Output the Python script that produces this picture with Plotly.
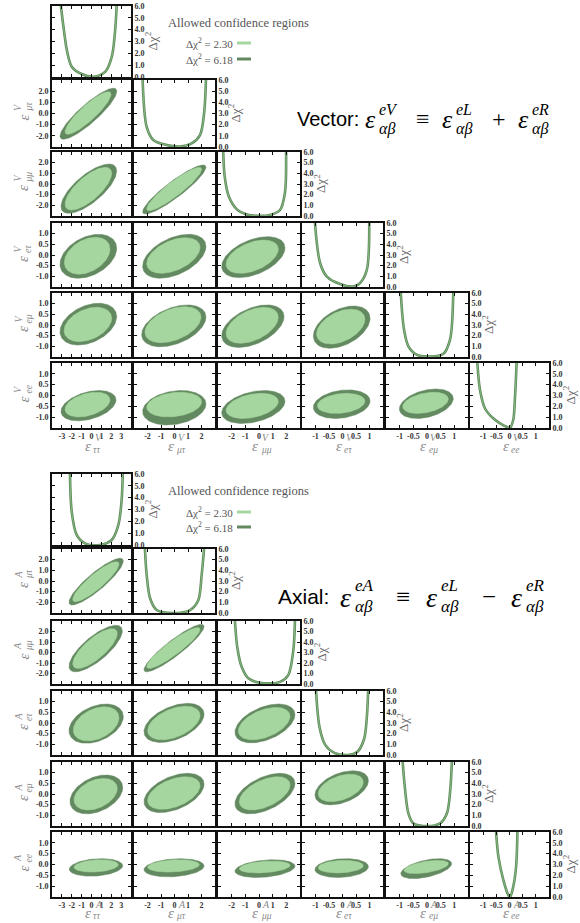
import numpy as np
import plotly.graph_objects as go

W, H = 580, 923

# ---------------- data ----------------
PARAM_SUBS = ["ττ", "μτ", "μμ", "eτ", "eμ", "ee"]
HALF_RANGE = [4, 3, 3, 1.5, 1.5, 1.5]
X_TICKS = [[-3, -2, -1, 0, 1, 2, 3], [-2, -1, 0, 1, 2], [-2, -1, 0, 1, 2],
           [-1, -0.5, 0, 0.5, 1], [-1, -0.5, 0, 0.5, 1], [-1, -0.5, 0, 0.5, 1]]
X_TICK_TEXT = [["-3", "-2", "-1", "0", "1", "2", "3"], ["-2", "-1", "0", "1", "2"],
               ["-2", "-1", "0", "1", "2"], ["-1", "-0.5", "0", "0.5", "1"],
               ["-1", "-0.5", "0", "0.5", "1"], ["-1", "-0.5", "0", "0.5", "1"]]
Y_TICKS = [[-2, -1, 0, 1, 2], [-2, -1, 0, 1, 2], [-2, -1, 0, 1, 2],
           [-1, -0.5, 0, 0.5, 1], [-1, -0.5, 0, 0.5, 1], [-1, -0.5, 0, 0.5, 1]]
Y_TICK_TEXT = [["-2.0", "-1.0", "0.0", "1.0", "2.0"]] * 3 + [["-1.0", "-0.5", "0.0", "0.5", "1.0"]] * 3
CHI_TICKS = [0, 1, 2, 3, 4, 5, 6]
CHI_TICK_TEXT = ["0.0", "1.0", "2.0", "3.0", "4.0", "5.0", "6.0"]

PAIRS = [(1, 0), (2, 0), (2, 1), (3, 0), (3, 1), (3, 2), (4, 0), (4, 1), (4, 2), (4, 3),
         (5, 0), (5, 1), (5, 2), (5, 3), (5, 4)]

# Vector: outer (Δχ²=6.18) and inner (Δχ²=2.30) region extents, and tilt
V_OUT_XLO = [-3.19, -3.09, -2.36, -3.19, -2.36, -2.73, -3.19, -2.43, -2.73, -1.08, -3.09, -2.36, -2.73, -1.08, -1.01]
V_OUT_XHI = [2.56, 2.55, 2.33, 2.55, 2.33, 1.90, 2.55, 2.33, 1.83, 1.02, 2.48, 2.33, 1.90, 1.02, 0.96]
V_OUT_YLO = [-2.31, -2.75, -2.81, -1.09, -1.09, -1.06, -0.94, -1.02, -1.05, -1.09, -1.17, -1.36, -1.29, -1.06, -1.06]
V_OUT_YHI = [2.26, 1.87, 1.78, 0.97, 0.97, 0.86, 1.02, 0.94, 0.94, 0.89, 0.23, 0.23, 0.23, 0.26, 0.30]
V_IN_XLO = [-2.68, -2.68, -2.06, -2.75, -2.06, -2.41, -2.78, -2.19, -2.41, -0.96, -2.68, -2.06, -2.41, -0.93, -0.89]
V_IN_XHI = [1.97, 2.04, 2.01, 1.87, 1.89, 1.41, 2.04, 1.96, 1.41, 0.83, 1.87, 2.01, 1.41, 0.83, 0.78]
V_IN_YLO = [-1.86, -2.44, -2.50, -0.90, -0.86, -0.86, -0.78, -0.83, -0.86, -0.89, -0.99, -0.99, -1.06, -0.83, -0.83]
V_IN_YHI = [1.95, 1.56, 1.56, 0.83, 0.81, 0.70, 0.83, 0.86, 0.83, 0.74, 0.15, 0.15, 0.10, 0.10, 0.15]
V_RHO = [0.88, 0.72, 0.91, 0.36, 0.45, 0.45, 0.36, 0.42, 0.45, 0.42, 0.38, 0.22, 0.35, 0.22, 0.35]

# Axial
A_OUT_XLO = [-2.28, -2.28, -2.26, -2.28, -2.26, -1.76, -2.18, -2.26, -1.76, -1.02, -2.25, -2.26, -1.76, -1.02, -0.96]
A_OUT_XHI = [3.22, 3.12, 2.19, 3.22, 2.19, 2.63, 3.16, 2.19, 2.63, 0.96, 3.16, 2.19, 2.63, 0.96, 0.90]
A_OUT_YLO = [-2.25, -1.84, -1.84, -0.95, -0.91, -0.93, -0.93, -0.87, -0.93, -0.51, -0.54, -0.57, -0.60, -0.60, -0.65]
A_OUT_YHI = [2.13, 2.59, 2.68, 0.89, 0.92, 0.89, 0.89, 0.97, 0.97, 1.09, 0.27, 0.27, 0.22, 0.27, 0.27]
A_IN_XLO = [-1.90, -1.90, -2.06, -1.84, -1.99, -1.51, -1.77, -1.99, -1.44, -0.90, -1.77, -1.99, -1.44, -0.90, -0.84]
A_IN_XHI = [2.78, 2.61, 1.89, 2.78, 1.89, 2.27, 2.61, 1.89, 2.27, 0.77, 2.71, 1.84, 2.27, 0.77, 0.78]
A_IN_YLO = [-1.94, -1.52, -1.52, -0.84, -0.79, -0.79, -0.75, -0.72, -0.75, -0.36, -0.35, -0.35, -0.39, -0.39, -0.42]
A_IN_YHI = [1.81, 2.27, 2.37, 0.76, 0.79, 0.73, 0.73, 0.81, 0.81, 0.93, 0.22, 0.22, 0.16, 0.19, 0.19]
A_RHO = [0.88, 0.76, 0.91, 0.36, 0.45, 0.45, 0.36, 0.45, 0.5, 0.42, 0.2, 0.2, 0.28, 0.15, 0.5]

# 1D profiles Δχ²(ε) on the diagonal
V_DIAG_X = [[-3.10, -2.80, -2.50, -2.00, -1.00, 0.20, 1.40, 2.05, 2.37, 2.55],
            [-2.36, -2.06, -1.57, -0.58, 0.40, 1.27, 1.89, 2.19, 2.33],
            [-2.62, -2.50, -2.20, -1.60, -0.90, -0.20, 0.80, 1.54, 1.90, 1.98],
            [-1.02, -0.83, -0.58, -0.09, 0.40, 0.65, 0.90, 0.99],
            [-0.96, -0.84, -0.68, -0.38, 0.11, 0.60, 0.84, 0.96],
            [-1.22, -1.12, -0.93, -0.61, -0.23, 0.02, 0.14, 0.21, 0.27]]
V_DIAG_Y = [[6.0, 4.0, 2.3, 0.87, 0.25, 0.02, 0.45, 1.7, 3.7, 6.0],
            [6.0, 1.8, 0.63, 0.18, 0.05, 0.33, 1.07, 3.0, 6.0],
            [6.0, 3.6, 1.8, 0.6, 0.15, 0.02, 0.1, 0.56, 2.2, 6.0],
            [6.0, 2.25, 0.97, 0.28, 0.05, 0.37, 1.6, 6.0],
            [6.0, 2.56, 1.0, 0.22, 0.05, 0.3, 1.6, 6.0],
            [6.0, 3.5, 1.8, 0.87, 0.25, 0.03, 0.72, 2.9, 6.0]]
A_DIAG_X = [[-2.18, -2.00, -1.50, -0.66, 0.86, 2.04, 2.72, 3.06, 3.16],
            [-2.19, -2.06, -1.81, -1.32, -0.09, 1.15, 1.76, 2.01, 2.19],
            [-1.76, -1.59, -1.27, -0.78, 0.07, 1.54, 2.14, 2.51, 2.63],
            [-0.98, -0.85, -0.65, -0.30, 0.20, 0.55, 0.80, 0.90, 0.95],
            [-0.89, -0.80, -0.68, -0.50, -0.13, 0.48, 0.73, 0.85, 0.91],
            [-0.51, -0.42, -0.23, -0.04, 0.02, 0.14, 0.25, 0.30]]
A_DIAG_Y = [[6.0, 2.8, 0.85, 0.14, 0.0, 0.42, 1.7, 3.9, 6.0],
            [6.0, 3.56, 1.38, 0.28, 0.0, 0.28, 1.2, 3.56, 6.0],
            [6.0, 3.5, 1.64, 0.54, 0.12, 0.2, 0.85, 3.2, 6.0],
            [6.0, 2.6, 1.0, 0.2, 0.0, 0.3, 1.5, 3.5, 6.0],
            [6.0, 3.36, 1.19, 0.25, 0.0, 0.25, 1.19, 3.36, 6.0],
            [6.0, 3.7, 1.54, 0.15, 0.0, 0.92, 2.77, 6.0]]

LEGEND_LEVELS = ["2.30", "6.18"]

# ---------------- styling / layout ----------------
C_IN = "#a6d69f"
C_OUT = "#62895f"
C_LINE = "#5c8a59"
C_LINE_HI = "#93c48d"
SERIF = "Liberation Serif"
SANS = "Liberation Sans"

COL_L = [52, 134, 218, 302, 386, 470]
COL_R = [131, 215, 300, 383, 468, 549]
BLOCKS = [
    dict(sym="V", rows_t=[6, 80, 152, 223, 293, 363], rows_b=[77, 147, 216, 287, 357, 428],
         out=(V_OUT_XLO, V_OUT_XHI, V_OUT_YLO, V_OUT_YHI), inn=(V_IN_XLO, V_IN_XHI, V_IN_YLO, V_IN_YHI),
         rho=V_RHO, dx=V_DIAG_X, dy=V_DIAG_Y, leg_y=[23, 43, 59], xlab_off=18),
    dict(sym="A", rows_t=[474, 549, 621, 691, 762, 832], rows_b=[545, 613, 684, 755, 826, 897],
         out=(A_OUT_XLO, A_OUT_XHI, A_OUT_YLO, A_OUT_YHI), inn=(A_IN_XLO, A_IN_XHI, A_IN_YLO, A_IN_YHI),
         rho=A_RHO, dx=A_DIAG_X, dy=A_DIAG_Y, leg_y=[491, 512, 527], xlab_off=15.5),
]


def pxx(x):
    return x / W


def pyy(y):
    return 1 - y / H


def ellipse(xlo, xhi, ylo, yhi, rho, n=160):
    t = np.linspace(0, 2 * np.pi, n)
    cx, a = (xlo + xhi) / 2, (xhi - xlo) / 2
    cy, b = (ylo + yhi) / 2, (yhi - ylo) / 2
    return cx + a * np.cos(t), cy + b * (rho * np.cos(t) + np.sqrt(1 - rho ** 2) * np.sin(t))


fig = go.Figure()
layout = {}
annotations = []
shapes = []
tickfont = dict(family=SERIF, size=8, color="#333333", weight="bold")
axis_common = dict(showgrid=False, zeroline=False, showline=True, linecolor="#111111", linewidth=1.6,
                   mirror="allticks", ticks="inside", ticklen=3, tickwidth=1, tickcolor="#111111",
                   tickfont=tickfont, automargin=False)

n = 0
for blk in BLOCKS:
    rt, rb = blk["rows_t"], blk["rows_b"]
    for i in range(6):
        for j in range(i + 1):
            n += 1
            xa = "xaxis" if n == 1 else f"xaxis{n}"
            ya = "yaxis" if n == 1 else f"yaxis{n}"
            xr = "x" if n == 1 else f"x{n}"
            yr = "y" if n == 1 else f"y{n}"
            hx = HALF_RANGE[j]
            layout[xa] = dict(axis_common, domain=[pxx(COL_L[j]), pxx(COL_R[j])], range=[-hx, hx],
                              anchor=yr, tickvals=X_TICKS[j], ticktext=X_TICK_TEXT[j],
                              showticklabels=(i == 5))
            if i == j:
                layout[ya] = dict(axis_common, domain=[pyy(rb[i]), pyy(rt[i])], range=[0, 6],
                                  anchor=xr, side="right", tickvals=CHI_TICKS, ticktext=CHI_TICK_TEXT,
                                  showticklabels=True)
                dxv, dyv = blk["dx"][i], blk["dy"][i]
                fig.add_trace(go.Scatter(x=dxv, y=dyv, xaxis=xr, yaxis=yr, mode="lines",
                                         line=dict(color=C_LINE, width=2.6, shape="spline", smoothing=0.9),
                                         showlegend=False, hoverinfo="skip"))
                fig.add_trace(go.Scatter(x=dxv, y=dyv, xaxis=xr, yaxis=yr, mode="lines",
                                         line=dict(color=C_LINE_HI, width=0.8, shape="spline", smoothing=0.9),
                                         showlegend=False, hoverinfo="skip"))
                annotations.append(dict(x=pxx(COL_R[j] + 20), y=pyy((rt[i] + rb[i]) / 2), xref="paper",
                                        yref="paper", text="Δχ<sup>2</sup>", showarrow=False, textangle=-90,
                                        xanchor="center", yanchor="middle",
                                        font=dict(family=SERIF, size=13, color="#666666")))
            else:
                hy = HALF_RANGE[i]
                layout[ya] = dict(axis_common, domain=[pyy(rb[i]), pyy(rt[i])], range=[-hy, hy],
                                  anchor=xr, tickvals=Y_TICKS[i], ticktext=Y_TICK_TEXT[i],
                                  showticklabels=(j == 0))
                k = PAIRS.index((i, j))
                for ext, col in ((blk["out"], C_OUT), (blk["inn"], C_IN)):
                    ex, ey = ellipse(ext[0][k], ext[1][k], ext[2][k], ext[3][k], blk["rho"][k])
                    fig.add_trace(go.Scatter(x=ex, y=ey, xaxis=xr, yaxis=yr, mode="lines", fill="toself",
                                             fillcolor=col, line=dict(color=col, width=0.5),
                                             showlegend=False, hoverinfo="skip"))

    # axis labels: x (bottom row) and y (first column)
    sym = blk["sym"]
    lab_col = "#8a8a8a"
    for j in range(6):
        cx = (COL_L[j] + COL_R[j]) / 2
        yb = rb[5] + blk["xlab_off"]
        annotations.append(dict(x=pxx(cx + 1), y=pyy(yb), xref="paper", yref="paper", text="<i>ε</i>",
                                showarrow=False, xanchor="right", yanchor="middle",
                                font=dict(family=SERIF, size=15, color=lab_col)))
        annotations.append(dict(x=pxx(cx + 1), y=pyy(yb - 8.5), xref="paper", yref="paper",
                                text=f"<i>{sym}</i>", showarrow=False, xanchor="left", yanchor="middle",
                                font=dict(family=SERIF, size=10, color=lab_col)))
        annotations.append(dict(x=pxx(cx - 0.5), y=pyy(yb + 3.5), xref="paper", yref="paper",
                                text=f"<i>{PARAM_SUBS[j]}</i>", showarrow=False, xanchor="left",
                                yanchor="middle", font=dict(family=SERIF, size=9.5, color=lab_col)))
    for i in range(1, 6):
        cy = (rt[i] + rb[i]) / 2
        annotations.append(dict(x=pxx(23), y=pyy(cy + 4), xref="paper", yref="paper", text="<i>ε</i>",
                                showarrow=False, textangle=-90, xanchor="center", yanchor="middle",
                                font=dict(family=SERIF, size=15, color=lab_col)))
        annotations.append(dict(x=pxx(17.5), y=pyy(cy), xref="paper", yref="paper", text=f"<i>{sym}</i>",
                                showarrow=False, textangle=-90, xanchor="center", yanchor="bottom",
                                font=dict(family=SERIF, size=10, color=lab_col)))
        annotations.append(dict(x=pxx(28.5), y=pyy(cy + 0.5), xref="paper", yref="paper",
                                text=f"<i>{PARAM_SUBS[i]}</i>", showarrow=False, textangle=-90,
                                xanchor="center", yanchor="bottom",
                                font=dict(family=SERIF, size=9.5, color=lab_col)))

    # legend
    ly = blk["leg_y"]
    annotations.append(dict(x=pxx(166), y=pyy(ly[0]), xref="paper", yref="paper",
                            text="Allowed confidence regions", showarrow=False, xanchor="left",
                            yanchor="middle", font=dict(family=SERIF, size=12.5, color="#555555")))
    for lv, yy, col in zip(LEGEND_LEVELS, ly[1:], (C_IN, C_OUT)):
        annotations.append(dict(x=pxx(235), y=pyy(yy), xref="paper", yref="paper",
                                text=f"Δχ<sup>2</sup> = {lv}", showarrow=False, xanchor="right",
                                yanchor="middle", font=dict(family=SERIF, size=11, color="#555555")))
        shapes.append(dict(type="line", xref="paper", yref="paper", x0=pxx(237), x1=pxx(251),
                           y0=pyy(yy), y1=pyy(yy), line=dict(color=col, width=3)))


# big formula titles
def formula(x0, yc, word, wsize, sup1, op, starts, esize, ssize, osize):
    out = []
    big = dict(family=SERIF, size=esize, color="black")
    small = dict(family=SERIF, size=ssize, color="black")
    out.append(dict(x=pxx(x0), y=pyy(yc), text=word, font=dict(family=SANS, size=wsize, color="black")))
    e_pos, o_pos = starts
    for s, xe in zip((sup1, "eL", "eR"), e_pos):
        out.append(dict(x=pxx(xe), y=pyy(yc + 1), text="<i>ε</i>", font=big))
        out.append(dict(x=pxx(xe + esize * 0.55), y=pyy(yc - ssize * 0.62), text=f"<i>{s}</i>", font=small))
        out.append(dict(x=pxx(xe + esize * 0.55), y=pyy(yc + ssize * 0.62), text="<i>αβ</i>", font=small))
    for o, xo in zip(("≡", op), o_pos):
        out.append(dict(x=pxx(xo), y=pyy(yc), text=o, font=dict(family=SERIF, size=osize, color="black")))
    for a in out:
        a.update(xref="paper", yref="paper", showarrow=False, yanchor="middle", xanchor="left")
    return out


annotations += formula(295, 119, "Vector:", 20, "eV", "+",
                       ([363, 440, 516], [414, 490]), 26, 16, 24)
annotations += formula(276, 596, "Axial:", 21, "eA", "−",
                       ([338, 424, 509], [394, 480]), 28, 17, 25)

fig.update_layout(template="none", width=W, height=H, margin=dict(l=0, r=0, t=0, b=0),
                  paper_bgcolor="white", plot_bgcolor="white", showlegend=False,
                  annotations=annotations, shapes=shapes, **layout)
fig.write_html("out.html", config={"displayModeBar": False},
               post_script="document.body.style.margin='0px';document.body.style.padding='0px';"
                           "document.body.style.overflow='hidden';")
